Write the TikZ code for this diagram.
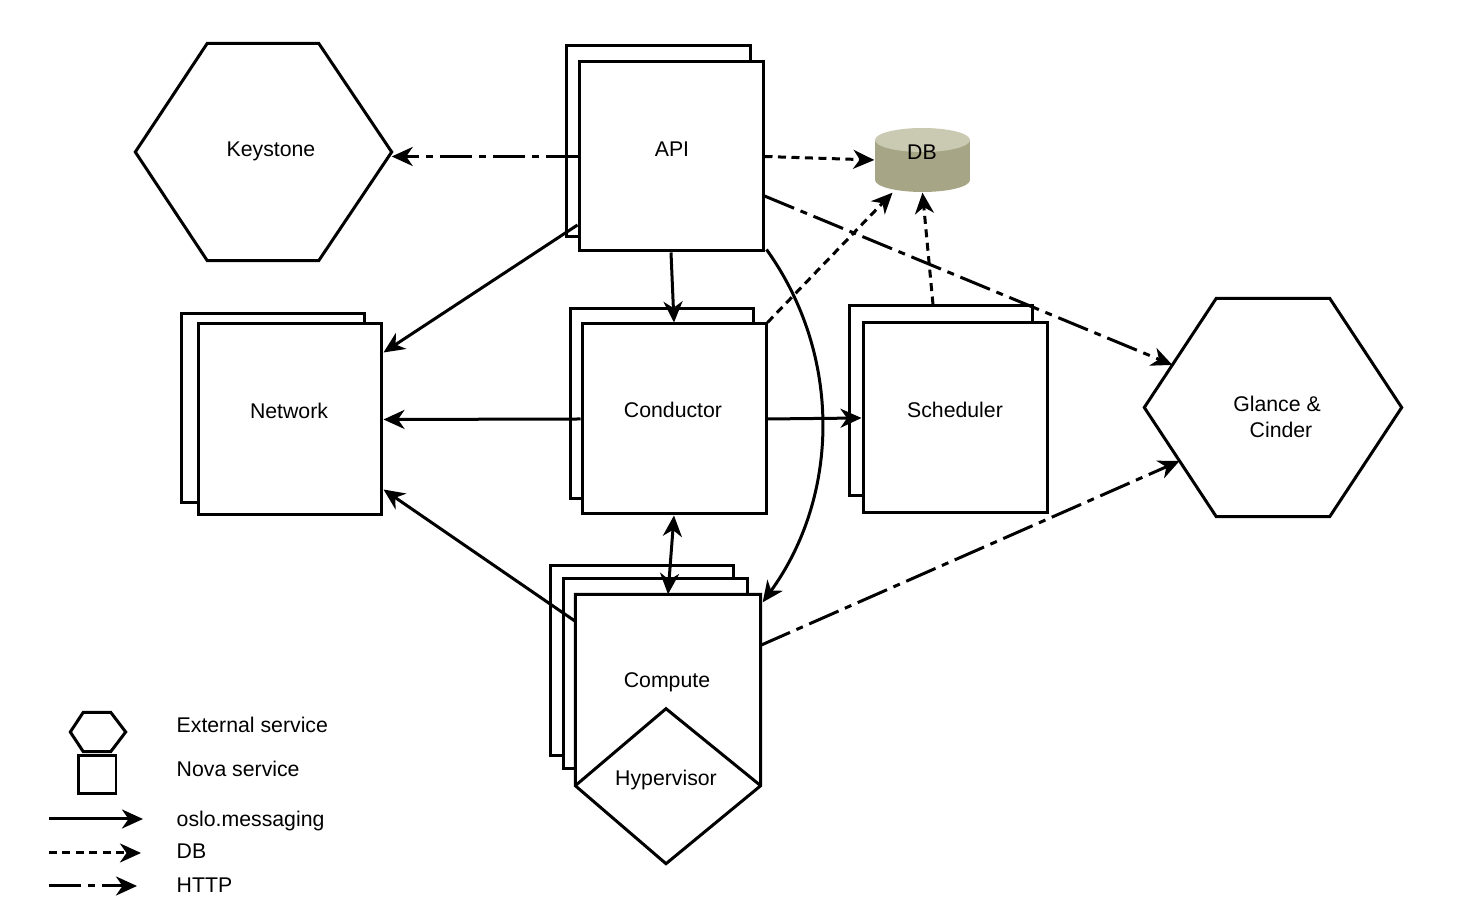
\documentclass[tikz,border=0pt]{standalone}
\usepackage{fontspec}
\setmainfont{Liberation Sans}
\usetikzlibrary{arrows.meta,calc}
\definecolor{dbtop}{HTML}{CACAB2}
\definecolor{dbside}{HTML}{A6A686}
\begin{document}
\begin{tikzpicture}[x=0.1mm,y=-0.1mm,
  box/.style={draw, line width=0.3mm, fill=white, shape=rectangle, inner sep=0pt,
              minimum width=18.4mm, minimum height=19mm},
  bbox/.style={shape=rectangle, inner sep=0pt},
  shapeline/.style={draw, line width=0.3mm, line join=miter},
  lbl/.style={font=\fontsize{6.05}{7.3}\selectfont, inner sep=0pt, anchor=base},
  leg/.style={font=\fontsize{6.05}{7.3}\selectfont, inner sep=0pt, anchor=base west},
  tip/.tip={Stealth[length=2.1mm,width=1.9mm,inset=0.65mm]},
  con/.style={line width=0.3mm, -tip},
  dbl/.style={con, dash pattern=on 0.8mm off 0.55mm},
  http/.style={con, dash pattern=on 3.2mm off 0.7mm on 0.7mm off 0.7mm}
]
\useasboundingbox (0,0) rectangle (1458,918);

% ---------- Keystone ----------
\node[bbox, minimum width=25.5mm, minimum height=21.6mm] (keystone) at (263.5,152) {};
\draw[shapeline] (keystone.west) -- ($(keystone.north west)+(72,0)$) -- ($(keystone.north east)+(-73,0)$)
  -- (keystone.east) -- ($(keystone.south east)+(-73,0)$) -- ($(keystone.south west)+(72,0)$) -- cycle;
\node[lbl] at (271,157) {Keystone};

% ---------- Glance & Cinder ----------
\node[bbox, minimum width=25.6mm, minimum height=21.7mm] (glance) at (1273,407.5) {};
\coordinate (gnw) at ($(glance.north west)+(72,0)$);
\coordinate (gne) at ($(glance.north east)+(-72,0)$);
\coordinate (gsw) at ($(glance.south west)+(72,0)$);
\coordinate (gse) at ($(glance.south east)+(-72,0)$);
\draw[shapeline] (glance.west) -- (gnw) -- (gne) -- (glance.east) -- (gse) -- (gsw) -- cycle;
\node[lbl] at (1277,412) {Glance \&};
\node[lbl] at (1281,438) {Cinder};

% ---------- API ----------
\node[box, minimum height=19.1mm] (apib) at (658,141.5) {};
\node[box, minimum height=18.9mm] (api) at (671,156.5) {};
\node[lbl] at (672,157) {API};

% ---------- DB ----------
\node[bbox, minimum width=9.5mm, minimum height=6.4mm] (db) at (922.5,160) {};
\fill[dbside] (875,140) rectangle (970,180);
\fill[dbside] (922.5,180) ellipse [x radius=47.5, y radius=12];
\fill[dbtop] (922.5,140) ellipse [x radius=47.5, y radius=12];
\node[lbl] at (922,160) {DB};

% ---------- Network ----------
\node[box, minimum height=18.9mm] (networkb) at (273,408.5) {};
\node[box, minimum height=19.1mm] (network) at (290,419.5) {};
\node[lbl] at (289,419) {Network};

% ---------- Conductor ----------
\node[box, minimum width=18.3mm] (condb) at (661.5,404) {};
\node[box] (cond) at (674,419) {};
\node[lbl] at (673,418) {Conductor};

% ---------- Scheduler ----------
\node[box, minimum width=18.3mm] (schedb) at (940.5,401) {};
\node[box] (sched) at (955,418) {};
\node[lbl] at (955,418) {Scheduler};

% ---------- Compute ----------
\node[box, minimum width=18.3mm] (computeb) at (641.5,661) {};
\node[box] (computem) at (655,674) {};
\node[bbox, minimum width=18.4mm, minimum height=19mm] (compute) at (668,690) {};
\coordinate (hyptop) at ($(compute.south)+(-2,-77)$);
\coordinate (hypbot) at ($(compute.south)+(-2,78)$);
\filldraw[shapeline, fill=white] (compute.south west) -- (compute.north west) -- (compute.north east)
  -- (compute.south east) -- (hypbot) -- cycle;
\draw[shapeline] (compute.south west) -- (hyptop) -- (compute.south east);
\node[lbl] at (667,688) {Compute};
\node[lbl] (hyper) at (666,786) {Hypervisor};

% ---------- Connectors ----------
\draw[http] (api.west) -- (keystone.east |- api.west);
\draw[dbl] (api.east) -- (db.west);
\draw[http] ($(api.east)+(0,39.5)$) -- ($(glance.west)!0.39!(gnw)$);
\draw[con] ($(api.west)+(0,68.5)$) -- ($(network.north east)+(0,30)$);
\draw[con] (api.south) -- (cond.north);
\draw[con] ($(api.south east)+(2,-3)$) .. controls +(76,106) and +(77,-106) .. ($(compute.north east)+(2,8)$);
\draw[dbl] (cond.north east) -- ($(db.south)+(-30,0)$);
\draw[dbl] ($(schedb.north)+(-7.5,0)$) -- (db.south);
\draw[con] (cond.west) -- (network.east);
\draw[con] (cond.east) -- (sched.west);
\draw[line width=0.3mm, tip-tip] (cond.south) -- (compute.north);
\draw[con] ($(compute.north west)+(0,27)$) -- ($(network.south east)+(0,-27)$);
\draw[http] ($(compute.north east)+(0,51)$) -- ($(glance.west)!0.49!(gsw)$);

% ---------- Legend ----------
\node[bbox, minimum width=5.4mm, minimum height=3.8mm] (lhex) at (98,732) {};
\draw[shapeline] (lhex.west) -- ($(lhex.north west)+(13,0)$) -- ($(lhex.north east)+(-15,0)$)
  -- (lhex.east) -- ($(lhex.south east)+(-15,0)$) -- ($(lhex.south west)+(13,0)$) -- cycle;
\node[box, minimum width=3.8mm, minimum height=3.8mm] (lsq) at (97,775) {};
\node[leg] at (176,733) {External service};
\node[leg] at (176,777) {Nova service};
\coordinate (l1a) at (49,819); \coordinate (l1b) at (143,819);
\coordinate (l2a) at (49,853); \coordinate (l2b) at (141,853);
\coordinate (l3a) at (49,886); \coordinate (l3b) at (137,886);
\draw[con] (l1a) -- (l1b);
\draw[dbl] (l2a) -- (l2b);
\draw[http] (l3a) -- (l3b);
\node[leg] at (176,827) {oslo.messaging};
\node[leg] at (176,859) {DB};
\node[leg] at (176,893) {HTTP};
\end{tikzpicture}
\end{document}
